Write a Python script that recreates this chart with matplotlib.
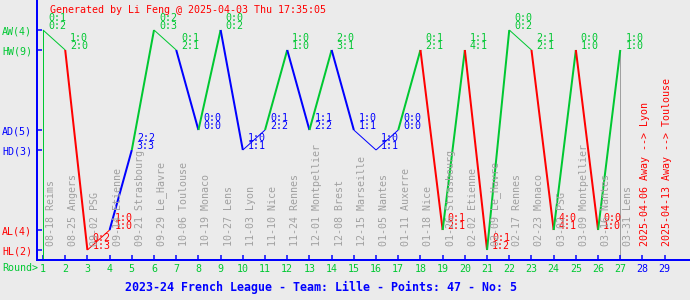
import matplotlib
matplotlib.use('Agg')
import matplotlib.pyplot as plt

# chart data
rounds = list(range(1, 28))
results = ['AW', 'HW', 'HL', 'AL', 'HD', 'AW', 'HW', 'AD', 'AW', 'HD',
           'AD', 'HW', 'AD', 'HW', 'AD', 'HD', 'AD', 'HW', 'AL', 'HW',
           'HL', 'AW', 'HW', 'AL', 'HW', 'AL', 'HW']
half_time = ['0:1', '1:0', '0:2', '1:0', '2:2', '0:2', '0:1', '0:0', '0:0', '1:0',
             '0:1', '1:0', '1:1', '2:0', '1:0', '1:0', '0:0', '0:1', '0:1', '1:1',
             '0:1', '0:0', '2:1', '4:0', '0:0', '0:0', '1:0']
full_time = ['0:2', '2:0', '1:3', '1:0', '3:3', '0:3', '2:1', '0:0', '0:2', '1:1',
             '2:2', '1:0', '2:2', '3:1', '1:1', '1:1', '0:0', '2:1', '2:1', '4:1',
             '1:2', '0:2', '2:1', '4:1', '1:0', '1:0', '1:0']
dates = ['08-18', '08-25', '09-02', '09-14', '09-21', '09-29', '10-06', '10-19', '10-27',
         '11-03', '11-10', '11-24', '12-01', '12-08', '12-15', '01-05', '01-11', '01-18',
         '01-26', '02-02', '02-09', '02-17', '02-23', '03-02', '03-09', '03-16', '03-31']
opponents = ['Reims', 'Angers', 'PSG', 'Etienne', 'Strasbourg', 'Le_Havre', 'Toulouse',
             'Monaco', 'Lens', 'Lyon', 'Nice', 'Rennes', 'Montpellier', 'Brest',
             'Marseille', 'Nantes', 'Auxerre', 'Nice', 'Strasbourg', 'Etienne',
             'Le_Havre', 'Rennes', 'Monaco', 'PSG', 'Montpellier', 'Nantes', 'Lens']
future_rounds = [28, 29]
future_text = ['2025-04-06 Away --> Lyon', '2025-04-13 Away --> Toulouse']

season, team = '2023-24 French League', 'Lille'
stamp = 'Generated by Li Feng @ 2025-04-03 Thu 17:35:05'

level = {'HL': 0, 'AL': 1, 'HD': 5, 'AD': 6, 'HW': 10, 'AW': 11}
GREEN, BLUE, RED, GRAY = '#00c832', '#0000ff', '#ff0000', '#a0a0a0'
col = {'W': GREEN, 'D': BLUE, 'L': RED}
PX = 0.72          # points per pixel at dpi 100
MONO = 'DejaVu Sans Mono'
BG = '#ebebeb'

fig = plt.figure(figsize=(6.9, 3.0), dpi=100, facecolor=BG)
ax = fig.add_axes([37/690, 40/300, 653/690, 260/300], facecolor=BG)
ax.set_xlim(0.73, 30.14); ax.set_ylim(-0.5, 12.5)

ys = [level[r] for r in results]
# start line
ax.plot([rounds[0], rounds[0]], [-0.5, ys[0]], color=col[results[0][1]], lw=1*PX)
for i in range(1, len(rounds)):
    thin = results[i][1] == results[i-1][1]
    ax.plot([rounds[i-1], rounds[i]], [ys[i-1], ys[i]], color=col[results[i][1]],
            lw=(1 if thin else 2)*PX, solid_capstyle='butt')
ax.plot([rounds[-1], rounds[-1]], [-0.5, ys[-1]], color=GRAY, lw=1*PX, zorder=1)

for r, y, res, h, f in zip(rounds, ys, results, half_time, full_time):
    c = col[res[1]]
    ax.annotate(h, (r, y), xytext=(5*PX, 9*PX), textcoords='offset points',
                va='baseline', ha='left', color=c, fontsize=7.2, family=MONO)
    ax.annotate(f, (r, y), xytext=(5*PX, 1*PX), textcoords='offset points',
                va='baseline', ha='left', color=c, fontsize=7.2, family=MONO)

for r, d, o in zip(rounds, dates, opponents):
    ax.annotate(f'{d} {o}', (r, 0.2), xytext=(8*PX, 0), textcoords='offset points',
                rotation=90, ha='center', va='bottom', color=GRAY, fontsize=7.2, family=MONO)
for r, t in zip(future_rounds, future_text):
    ax.annotate(t, (r, 0.2), xytext=(2.5*PX, 0), textcoords='offset points',
                rotation=90, ha='center', va='bottom', color=RED, fontsize=7.2, family=MONO)

# axes styling
for s in ['top', 'right']:
    ax.spines[s].set_visible(False)
for s in ['left', 'bottom']:
    ax.spines[s].set_color(BLUE); ax.spines[s].set_linewidth(2*PX)
order = ['HL', 'AL', 'HD', 'AD', 'HW', 'AW']
ax.set_yticks([level[k] for k in order])
ax.set_yticklabels([f'{k}({results.count(k)})' for k in order], family=MONO, fontsize=7.2)
for lab, k in zip(ax.get_yticklabels(), order):
    lab.set_color(col[k[1]])
all_rounds = rounds + future_rounds
ax.set_xticks(all_rounds)
ax.set_xticklabels([str(r) for r in all_rounds], family=MONO, fontsize=7.2)
for lab, r in zip(ax.get_xticklabels(), all_rounds):
    lab.set_color(GREEN if r in rounds else BLUE)
ax.tick_params(direction='in', length=5*PX, width=1.5*PX, color=BLUE)
ax.tick_params(axis='y', pad=5*PX)
ax.tick_params(axis='x', pad=4*PX)

fig.text(2/690, 1 - 268/300, 'Round>', color=GREEN, family=MONO, fontsize=7.2,
         ha='left', va='center')
fig.text(50/690, 1 - 10/300, stamp, color=RED, family=MONO, fontsize=7.2,
         ha='left', va='center')
pts = 3*sum(r.endswith('W') for r in results) + sum(r.endswith('D') for r in results)
fig.text(125/690, 1 - 287/300, f'{season} - Team: {team} - Points: {pts} - No: 5',
         color=BLUE, family=MONO, fontsize=8.4, fontweight='bold', ha='left', va='center')

fig.savefig('out.png', dpi=100, facecolor=BG)
